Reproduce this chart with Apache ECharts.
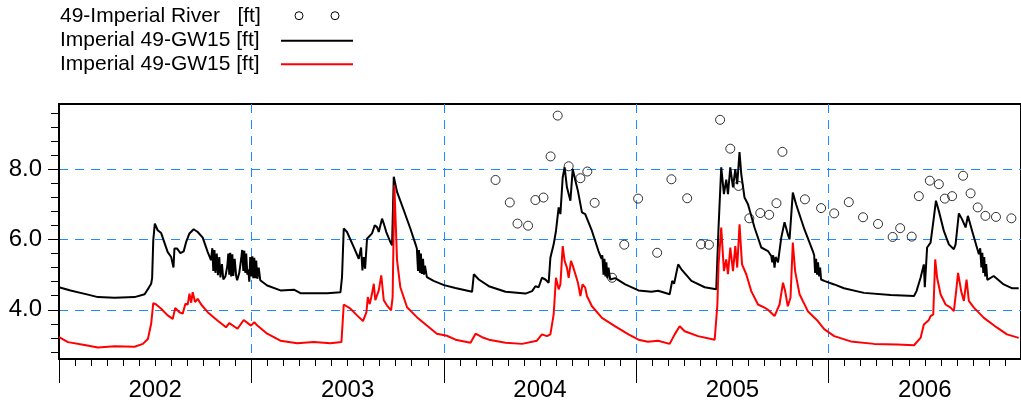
<!DOCTYPE html>
<html>
<head>
<meta charset="utf-8">
<script src="https://cdn.jsdelivr.net/npm/echarts@6/dist/echarts.min.js"></script>
<style>
  html, body { margin: 0; padding: 0; background: #fff; }
  #chart { width: 1021px; height: 404px; }
</style>
</head>
<body>
<div id="chart"></div>
<script>
// Series names
const riverName = '49-Imperial River   [ft]';
const gwName = 'Imperial 49-GW15 [ft]';

// Time is expressed in decimal years; values are stage / water level in ft.
const riverObs = [
  [2004.269,7.69],[2004.343,7.05],[2004.383,6.45],[2004.438,6.39],[2004.476,7.12],[2004.518,7.19],
  [2004.555,8.36],[2004.592,9.52],[2004.649,8.08],[2004.710,7.74],[2004.746,7.93],[2004.784,7.04],
  [2004.875,4.91],[2004.938,5.85],[2005.010,7.16],[2005.109,5.62],[2005.183,7.71],[2005.265,7.17],
  [2005.337,5.86],[2005.378,5.85],[2005.436,9.40],[2005.489,8.58],[2005.532,7.52],[2005.588,6.60],
  [2005.645,6.75],[2005.691,6.70],[2005.729,7.03],[2005.760,8.49],[2005.877,7.14],[2005.961,6.89],
  [2006.029,6.74],[2006.105,7.06],[2006.179,6.63],[2006.257,6.44],[2006.333,6.07],[2006.372,6.32],
  [2006.432,6.08],[2006.469,7.23],[2006.526,7.67],[2006.573,7.57],[2006.604,7.16],[2006.642,7.23],
  [2006.699,7.81],[2006.738,7.31],[2006.775,6.91],[2006.815,6.67],[2006.870,6.64],[2006.950,6.60]
];

const gwBlack = [
  [2002.000,4.64],[2002.060,4.55],[2002.150,4.43],[2002.202,4.36],[2002.289,4.34],[2002.393,4.36],
  [2002.445,4.44],[2002.467,4.63],[2002.479,4.74],[2002.484,4.90],[2002.490,5.98],[2002.498,6.45],
  [2002.513,6.26],[2002.531,6.18],[2002.565,5.64],[2002.583,5.50],[2002.595,5.20],[2002.600,5.74],
  [2002.614,5.74],[2002.631,5.61],[2002.648,5.66],[2002.661,5.93],[2002.678,6.17],[2002.700,6.29],
  [2002.721,6.21],[2002.747,6.05],[2002.773,5.64],[2002.790,5.41],
  [2002.797,5.75],[2002.802,5.10],[2002.808,5.70],[2002.813,5.05],[2002.820,5.60],[2002.826,4.98],
  [2002.833,5.50],[2002.839,4.92],[2002.847,5.30],[2002.854,4.86],[2002.865,4.95],[2002.875,5.25],
  [2002.880,5.60],[2002.885,5.00],[2002.890,5.62],[2002.895,4.95],[2002.901,5.58],[2002.906,4.96],
  [2002.913,5.45],[2002.921,4.95],[2002.926,4.84],[2002.937,5.05],[2002.947,5.45],[2002.952,5.70],
  [2002.958,5.10],[2002.963,5.68],[2002.968,5.05],[2002.973,5.60],[2002.979,5.00],[2002.984,5.15],
  [2002.989,4.80],[2002.994,5.50],[2002.999,4.95],[2003.005,5.52],[2003.010,4.90],[2003.015,5.48],
  [2003.020,4.90],[2003.025,5.40],[2003.031,4.88],[2003.038,5.20],[2003.046,4.84],[2003.058,4.79],
  [2003.082,4.69],[2003.151,4.55],[2003.221,4.57],[2003.255,4.47],[2003.325,4.47],[2003.394,4.47],
  [2003.463,4.50],[2003.471,4.93],[2003.480,6.31],[2003.497,6.21],[2003.532,5.78],[2003.558,5.45],
  [2003.570,5.77],[2003.577,5.12],[2003.584,5.50],[2003.591,5.17],[2003.601,6.02],[2003.627,6.17],
  [2003.641,6.40],[2003.653,6.35],[2003.662,6.21],[2003.679,6.59],[2003.688,6.45],[2003.701,6.21],
  [2003.722,5.93],[2003.731,5.83],[2003.740,7.78],[2003.745,7.83],[2003.757,7.35],[2003.792,6.83],
  [2003.826,6.31],[2003.852,5.88],[2003.860,5.74],[2003.866,5.10],[2003.871,5.70],[2003.876,5.05],
  [2003.881,5.60],[2003.886,5.02],[2003.892,5.45],[2003.897,5.00],[2003.902,5.25],[2003.912,4.93],
  [2003.947,4.82],[2004.001,4.70],[2004.060,4.62],[2004.147,4.51],[2004.156,5.01],[2004.182,4.86],
  [2004.234,4.67],[2004.321,4.51],[2004.424,4.46],[2004.459,4.53],[2004.476,4.67],[2004.493,4.64],
  [2004.510,4.91],[2004.528,4.86],[2004.545,4.77],[2004.554,5.48],[2004.571,5.86],[2004.583,6.24],
  [2004.597,6.91],[2004.606,6.72],[2004.618,7.76],[2004.628,8.05],[2004.640,7.48],[2004.658,7.10],
  [2004.670,8.00],[2004.684,7.67],[2004.697,7.38],[2004.718,6.77],[2004.735,6.72],[2004.770,6.24],
  [2004.804,5.67],[2004.820,5.45],[2004.824,5.55],[2004.830,5.00],[2004.835,5.45],[2004.840,4.95],
  [2004.845,5.35],[2004.850,4.90],[2004.856,5.20],[2004.865,4.86],[2004.891,4.90],[2004.943,4.72],
  [2005.012,4.55],[2005.079,4.51],[2005.114,4.54],[2005.174,4.44],[2005.187,4.82],[2005.197,4.74],
  [2005.218,5.29],[2005.235,5.15],[2005.287,4.82],[2005.356,4.64],[2005.416,4.58],[2005.428,6.34],
  [2005.442,8.05],[2005.456,7.29],[2005.468,7.70],[2005.477,7.29],[2005.489,8.05],[2005.503,7.48],
  [2005.515,8.00],[2005.525,7.57],[2005.537,8.48],[2005.546,7.86],[2005.563,7.19],[2005.581,7.00],
  [2005.615,6.34],[2005.650,5.77],[2005.685,5.67],[2005.702,5.53],[2005.707,5.35],[2005.712,5.55],
  [2005.719,5.20],[2005.725,5.50],[2005.737,5.35],[2005.754,6.05],[2005.771,6.49],[2005.788,6.15],
  [2005.797,6.00],[2005.814,7.33],[2005.831,7.00],[2005.874,6.29],[2005.918,5.67],[2005.925,5.55],
  [2005.930,5.05],[2005.935,5.45],[2005.940,5.00],[2005.945,5.35],[2005.951,4.95],[2005.956,5.20],
  [2005.961,4.86],[2005.977,4.82],[2006.029,4.72],[2006.080,4.61],[2006.184,4.48],[2006.323,4.42],
  [2006.444,4.39],[2006.457,4.53],[2006.478,4.91],[2006.495,5.29],[2006.500,4.64],[2006.512,5.77],
  [2006.530,5.91],[2006.547,6.62],[2006.558,7.10],[2006.573,6.81],[2006.599,6.24],[2006.625,5.86],
  [2006.651,5.72],[2006.660,5.86],[2006.677,6.74],[2006.694,6.57],[2006.712,6.34],[2006.724,6.67],
  [2006.746,6.24],[2006.781,5.58],[2006.788,5.75],[2006.794,5.20],[2006.799,5.62],[2006.804,5.05],
  [2006.809,5.50],[2006.814,4.95],[2006.819,5.30],[2006.825,4.85],[2006.832,4.86],[2006.858,4.96],
  [2006.910,4.72],[2006.955,4.61],[2006.988,4.61]
];

const gwRed = [
  [2002.000,3.22],[2002.047,3.08],[2002.133,3.00],[2002.202,2.93],[2002.289,2.96],[2002.393,2.95],
  [2002.436,3.03],[2002.462,3.17],[2002.479,3.60],[2002.490,4.19],[2002.505,4.15],[2002.531,4.03],
  [2002.565,3.84],[2002.591,3.74],[2002.604,4.05],[2002.626,3.93],[2002.643,3.89],[2002.657,4.17],
  [2002.669,4.15],[2002.678,4.46],[2002.687,4.20],[2002.695,4.50],[2002.707,4.22],[2002.721,4.31],
  [2002.739,4.15],[2002.773,3.93],[2002.825,3.69],[2002.868,3.50],[2002.885,3.62],[2002.928,3.46],
  [2002.960,3.71],[2002.998,3.55],[2003.015,3.65],[2003.031,3.55],[2003.082,3.32],[2003.151,3.12],
  [2003.238,3.05],[2003.325,3.08],[2003.411,3.05],[2003.468,3.08],[2003.480,4.15],[2003.515,4.03],
  [2003.549,3.84],[2003.580,3.68],[2003.598,3.93],[2003.605,4.36],[2003.615,4.16],[2003.627,4.46],
  [2003.636,4.74],[2003.644,4.27],[2003.662,4.55],[2003.675,4.98],[2003.688,4.27],[2003.705,4.12],
  [2003.726,3.98],[2003.734,4.36],[2003.743,7.54],[2003.757,5.41],[2003.774,4.64],[2003.809,4.07],
  [2003.860,3.79],[2003.912,3.55],[2003.964,3.32],[2004.016,3.26],[2004.061,3.15],[2004.139,3.06],
  [2004.165,3.32],[2004.199,3.22],[2004.234,3.15],[2004.321,3.06],[2004.407,3.03],[2004.484,3.12],
  [2004.510,3.30],[2004.536,3.25],[2004.554,3.30],[2004.571,3.87],[2004.583,4.91],[2004.597,4.58],
  [2004.606,4.72],[2004.618,5.81],[2004.628,5.39],[2004.640,5.20],[2004.649,4.91],[2004.661,5.39],
  [2004.671,5.24],[2004.684,5.01],[2004.697,4.77],[2004.710,4.39],[2004.721,4.72],[2004.735,4.63],
  [2004.744,4.39],[2004.770,4.10],[2004.822,3.77],[2004.891,3.53],[2004.960,3.30],[2005.012,3.15],
  [2005.060,3.09],[2005.114,3.12],[2005.174,3.03],[2005.200,3.30],[2005.226,3.53],[2005.252,3.39],
  [2005.321,3.25],[2005.408,3.15],[2005.422,4.15],[2005.428,5.29],[2005.442,6.34],[2005.456,5.10],
  [2005.468,5.43],[2005.477,5.01],[2005.489,5.77],[2005.503,5.10],[2005.515,5.81],[2005.525,5.20],
  [2005.537,6.43],[2005.550,5.29],[2005.572,5.01],[2005.598,4.53],[2005.633,4.15],[2005.667,4.06],
  [2005.685,4.00],[2005.719,3.82],[2005.745,4.15],[2005.763,4.77],[2005.774,4.53],[2005.788,4.10],
  [2005.802,4.34],[2005.814,5.91],[2005.826,5.10],[2005.849,4.44],[2005.892,3.96],[2005.944,3.68],
  [2005.977,3.45],[2006.029,3.25],[2006.115,3.10],[2006.236,3.03],[2006.357,3.01],[2006.444,2.99],
  [2006.478,3.20],[2006.495,3.58],[2006.520,3.70],[2006.530,3.82],[2006.544,3.87],[2006.554,5.43],
  [2006.564,4.91],[2006.582,4.44],[2006.608,4.15],[2006.634,4.06],[2006.651,3.96],[2006.663,4.53],
  [2006.673,5.05],[2006.689,4.53],[2006.703,4.25],[2006.717,4.86],[2006.729,4.25],[2006.755,4.06],
  [2006.807,3.77],[2006.876,3.49],[2006.927,3.30],[2006.988,3.20]
];

// Axis ticks and labels
const yearLabels = [2002, 2003, 2004, 2005, 2006];
const yMajorTicks = [4, 6, 8];
const yMinorTicks = [2.8, 3.2, 3.6, 4.0, 4.4, 4.8, 5.2, 5.6, 6.0, 6.4, 6.8, 7.2, 7.6, 8.0, 8.4, 8.8, 9.2, 9.6];

const xMin = 2002, xMax = 2007;
const yMin = 2.6, yMax = 9.85;

const monthTicks = [];
for (let y = xMin; y < xMax; y++) {
  for (let m = 0; m < 12; m++) monthTicks.push(y + m / 12);
}
monthTicks.push(xMax);
const yearCentres = yearLabels.map(y => y + 0.5);

const FONT = '"Liberation Sans", Arial, sans-serif';
const GRID_BLUE = '#1f8bff';
const DASH = [9, 7];

const chart = echarts.init(document.getElementById('chart'), null, { renderer: 'canvas' });

chart.setOption({
  animation: false,
  backgroundColor: '#fff',
  grid: {
    left: 59, top: 104, right: -2, bottom: 45,
    show: true, borderColor: '#000', borderWidth: 2, backgroundColor: 'transparent'
  },
  xAxis: [
    {
      type: 'value', min: xMin, max: xMax, interval: 1, position: 'bottom',
      axisLine: { show: true, onZero: false, lineStyle: { color: '#000', width: 2 } },
      axisTick: { show: true, length: 24, lineStyle: { color: '#000', width: 1 } },
      axisLabel: { show: false },
      splitLine: {
        show: true, showMinLine: false, showMaxLine: false,
        lineStyle: { color: GRID_BLUE, width: 1, type: DASH }
      }
    },
    {
      type: 'value', min: xMin, max: xMax, position: 'bottom',
      axisLine: { show: false, onZero: false },
      axisTick: { show: true, length: 7, customValues: monthTicks, lineStyle: { color: '#000', width: 1 } },
      axisLabel: {
        show: true, customValues: yearCentres, formatter: v => String(Math.floor(v)),
        fontSize: 24, fontFamily: FONT, color: '#000', margin: 19
      },
      splitLine: { show: false }
    }
  ],
  yAxis: [
    {
      type: 'value', min: yMin, max: yMax, position: 'left',
      axisLine: { show: true, onZero: false, lineStyle: { color: '#000', width: 2 } },
      axisTick: { show: true, length: 11, customValues: yMajorTicks, lineStyle: { color: '#000', width: 1 } },
      axisLabel: {
        show: true, customValues: yMajorTicks, formatter: v => v.toFixed(1),
        fontSize: 24, fontFamily: FONT, color: '#000', margin: 17
      },
      splitLine: { show: true, lineStyle: { color: GRID_BLUE, width: 1, type: DASH } }
    },
    {
      type: 'value', min: yMin, max: yMax, position: 'left',
      axisLine: { show: false, onZero: false },
      axisTick: { show: true, length: 8, customValues: yMinorTicks, lineStyle: { color: '#000', width: 1 } },
      axisLabel: { show: false },
      splitLine: { show: false }
    }
  ],
  series: [
    {
      name: gwName, type: 'line', data: gwBlack, xAxisIndex: 0, yAxisIndex: 0,
      showSymbol: false, symbol: 'none', smooth: false,
      lineStyle: { color: '#000', width: 2 }, z: 3
    },
    {
      name: gwName + ' ', type: 'line', data: gwRed, xAxisIndex: 0, yAxisIndex: 0,
      showSymbol: false, symbol: 'none', smooth: false,
      lineStyle: { color: '#ff0000', width: 2 }, z: 4
    },
    {
      name: riverName, type: 'scatter', data: riverObs, xAxisIndex: 0, yAxisIndex: 0,
      symbol: 'circle', symbolSize: 9,
      itemStyle: { color: 'rgba(255,255,255,0)', borderColor: '#000', borderWidth: 1 }, z: 5
    }
  ],
  // Key in the top-left corner
  graphic: [
    { type: 'text', x: 60, y: 16, style: { text: riverName, font: '21px ' + FONT, fill: '#000', verticalAlign: 'middle' } },
    { type: 'circle', shape: { cx: 299, cy: 15.7, r: 4 }, style: { fill: 'none', stroke: '#000', lineWidth: 1 } },
    { type: 'circle', shape: { cx: 335, cy: 15.7, r: 4 }, style: { fill: 'none', stroke: '#000', lineWidth: 1 } },
    { type: 'text', x: 60, y: 40.5, style: { text: gwName, font: '21px ' + FONT, fill: '#000', verticalAlign: 'middle' } },
    { type: 'line', shape: { x1: 281, y1: 40.7, x2: 353, y2: 40.7 }, style: { stroke: '#000', lineWidth: 2 } },
    { type: 'text', x: 60, y: 64.5, style: { text: gwName, font: '21px ' + FONT, fill: '#000', verticalAlign: 'middle' } },
    { type: 'line', shape: { x1: 281, y1: 64.3, x2: 353, y2: 64.3 }, style: { stroke: '#ff0000', lineWidth: 2 } }
  ]
});
</script>
</body>
</html>
